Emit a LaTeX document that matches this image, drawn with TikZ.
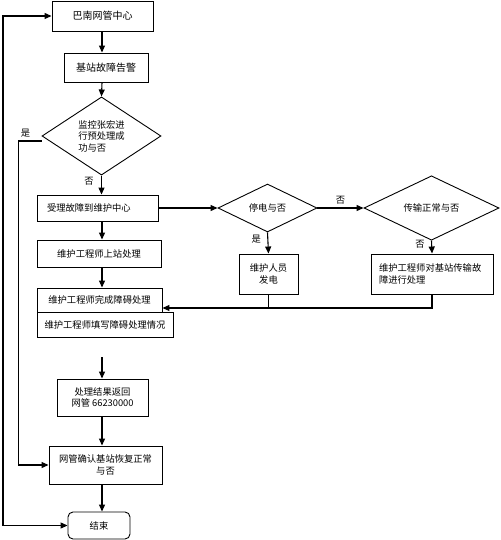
\documentclass[tikz,border=0pt]{standalone}
\usepackage{fontspec}
\usepackage{tikz}
\usetikzlibrary{shapes.geometric,arrows.meta}
\newfontfamily\cjk{Noto Sans CJK SC}

\begin{document}
\begin{tikzpicture}[x=1pt,y=-1pt,
    box/.style={draw,line width=0.9pt,inner sep=0pt,align=center,font=\cjk\fontsize{9.3}{11.5}\selectfont},
    choice/.style={diamond,draw,line width=0.9pt,inner sep=0pt,align=center,font=\cjk\fontsize{9.3}{11.5}\selectfont},
    arr/.style={line width=1.1pt,-{Triangle[length=7pt,width=6pt]}},
    lbl/.style={font=\cjk\fontsize{9.3}{11}\selectfont}]
        \useasboundingbox (0,0) rectangle (500,540);
        \coordinate (col) at (102,0);
        \coordinate (hz) at (0,308);
        \coordinate (lp) at (3,0);
        \coordinate (fs) at (102,357);
        % left column
        \node[box,minimum width=101pt,minimum height=30pt,font=\cjk\fontsize{10}{12}\selectfont] (bn) at (102.5,16) {巴南网管中心};
        \node[box,minimum width=84pt,minimum height=29pt,font=\cjk\fontsize{10}{12}\selectfont] (gj) at (106,67.5) {基站故障告警};
        \node[choice,minimum width=119pt,minimum height=72pt,align=left] (jk) at (101.5,136) {监控张宏进\\行预处理成\\功与否};
        \node[box,minimum width=121pt,minimum height=26pt,text width=101pt,align=left] (sl) at (97.5,208) {受理故障到维护中心};
        \node[box,minimum width=124pt,minimum height=27pt] (sz) at (99,253.5) {维护工程师上站处理};
        \node[box,minimum width=125pt,minimum height=24pt] (wc) at (99.5,300) {维护工程师完成障碍处理};
        \node[box,minimum width=136pt,minimum height=25pt] (tx) at (105,324.5) {维护工程师填写障碍处理情况};
        \node[box,minimum width=91pt,minimum height=37pt] (fh) at (102.5,397.5) {处理结果返回\\网管 66230000};
        \node[box,minimum width=113pt,minimum height=38pt] (qr) at (105.5,465) {网管确认基站恢复正常\\与否};
        \node[box,rounded corners=5pt,minimum width=62pt,minimum height=27pt] (js) at (99,525.5) {结束};
        % right branch
        \node[choice,minimum width=99pt,minimum height=48pt] (td) at (267.5,208) {停电与否};
        \node[choice,minimum width=135pt,minimum height=48pt] (cs) at (431.5,208) {传输正常与否};
        \node[box,minimum width=59pt,minimum height=40pt] (fd) at (268.5,274) {维护人员\\发电};
        \node[box,minimum width=122pt,minimum height=40pt,text width=106pt,align=left] (cl) at (432,274) {维护工程师对基站传输故\\障进行处理};
        % connectors
        \draw[arr] (col |- bn.south) -- (col |- gj.north);
        \draw[arr] (col |- gj.south) -- (jk.north);
        \draw[arr] (jk.south) -- node[lbl,left,pos=0.3,xshift=-4pt]{否} (jk.south |- sl.north);
        \draw[arr] (col |- sl.south) -- (col |- sz.north);
        \draw[arr] (col |- sz.south) -- (col |- wc.north);
        \draw[arr] (fs) -- (col |- fh.north);
        \draw[arr] (col |- fh.south) -- (col |- qr.north);
        \draw[arr] (col |- qr.south) -- (col |- js.north);
        \draw[arr] (sl.east) -- (td.west);
        \draw[arr] (td.east) -- node[lbl,above]{否} (cs.west);
        \draw[arr] (td.south) -- node[lbl,left,pos=0.3,xshift=-3pt]{是} (fd.north);
        \draw[arr] (cs.south) -- node[lbl,left,pos=0.3,xshift=-3pt]{否} (cl.north);
        \draw[line width=1.1pt] (fd.south) -- (fd.south |- hz);
        \draw[arr] (cl.south) |- (wc.east |- hz);
        \draw[arr] ([yshift=-5pt]jk.west) -- node[lbl,above,pos=0.7]{是} ++(-23,0) |- (qr.west);
        \draw[line width=1.1pt,{Triangle[length=7pt,width=6pt]}-{Triangle[length=7pt,width=6pt]}] (bn.west) -- (lp |- bn.west) -- (lp |- js.west) -- (js.west);
    \end{tikzpicture}
\end{document}
